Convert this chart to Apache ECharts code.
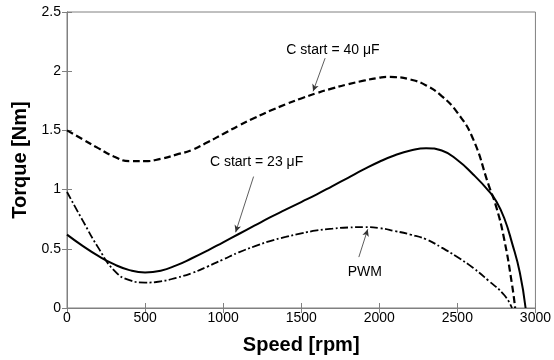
<!DOCTYPE html>
<html>
<head>
<meta charset="utf-8">
<script src="https://cdn.jsdelivr.net/npm/echarts@6/dist/echarts.min.js"></script>
<style>html,body{margin:0;padding:0;background:#fff}#c{width:554px;height:360px}</style>
</head>
<body>
<div id="c"></div>
<script>
const xTicks = [0, 500, 1000, 1500, 2000, 2500, 3000];
const yTicks = [0, 0.5, 1, 1.5, 2, 2.5];
const c40 = [[0,1.50],[100,1.425],[200,1.35],[300,1.28],[400,1.24],[500,1.24],[600,1.26],[700,1.295],[800,1.335],[900,1.40],[1000,1.47],[1100,1.54],[1200,1.605],[1300,1.665],[1400,1.72],[1500,1.77],[1600,1.815],[1700,1.855],[1800,1.89],[1900,1.92],[2000,1.945],[2050,1.952],[2100,1.95],[2200,1.93],[2300,1.88],[2400,1.79],[2500,1.65],[2600,1.43],[2700,1.04],[2750,0.85],[2800,0.58],[2850,0.20],[2870,0]];
const c23 = [[0,0.62],[100,0.525],[200,0.44],[300,0.37],[400,0.32],[500,0.30],[600,0.315],[700,0.36],[800,0.42],[900,0.485],[1000,0.555],[1100,0.625],[1200,0.695],[1300,0.765],[1400,0.83],[1500,0.895],[1600,0.96],[1700,1.03],[1800,1.10],[1900,1.17],[2000,1.235],[2100,1.29],[2200,1.33],[2300,1.35],[2400,1.33],[2500,1.25],[2600,1.13],[2700,0.99],[2750,0.90],[2800,0.76],[2850,0.55],[2900,0.30],[2937,0]];
const pwm = [[0,0.98],[100,0.74],[200,0.51],[300,0.32],[400,0.235],[500,0.215],[600,0.225],[700,0.255],[800,0.295],[900,0.35],[1000,0.41],[1100,0.47],[1200,0.52],[1300,0.565],[1400,0.60],[1500,0.63],[1600,0.655],[1700,0.67],[1800,0.68],[1900,0.683],[2000,0.675],[2100,0.65],[2200,0.62],[2300,0.58],[2400,0.51],[2500,0.43],[2600,0.34],[2700,0.23],[2800,0.11],[2850,0]];
const labels = ['C start = 40 \u03bcF', 'C start = 23 \u03bcF', 'PWM'];
const labelPos = [[1703, 2.18], [1214, 1.23], [1907, 0.30]];
const arrows = [[[1653, 2.11], [1576, 1.83]], [[1195, 1.11], [1080, 0.64]], [[1869, 0.43], [1926, 0.665]]];

const gray = '#808080';
const font = 'Liberation Sans, Arial, sans-serif';
const chart = echarts.init(document.getElementById('c'));
const axisCommon = {
  axisLine: { show: true, lineStyle: { color: gray, width: 1 } },
  axisTick: { show: true, inside: true, length: 5, lineStyle: { color: gray } },
  splitLine: { show: false }
};
chart.setOption({
  animation: false,
  backgroundColor: '#fff',
  grid: { left: 67, right: 15, top: 12, bottom: 51, show: true, borderColor: gray, borderWidth: 1 },
  xAxis: [
    Object.assign({ type: 'value', min: 0, max: 3000, interval: 500, position: 'bottom',
      name: 'Speed [rpm]', nameLocation: 'middle', nameGap: 27,
      nameTextStyle: { fontFamily: font, fontWeight: 'bold', fontSize: 20, color: '#000' },
      axisLabel: { fontFamily: font, fontSize: 14, color: '#000', margin: 3, formatter: v => String(v) } }, axisCommon),
    Object.assign({ type: 'value', min: 0, max: 3000, interval: 500, position: 'top',
      axisLabel: { show: false } }, axisCommon)
  ],
  yAxis: [
    Object.assign({ type: 'value', min: 0, max: 2.5, interval: 0.5, position: 'left',
      name: 'Torque [Nm]', nameLocation: 'middle', nameGap: 35,
      nameTextStyle: { fontFamily: font, fontWeight: 'bold', fontSize: 20, color: '#000' },
      axisLabel: { fontFamily: font, fontSize: 14, color: '#000', margin: 6, formatter: v => String(v) } }, axisCommon),
    Object.assign({ type: 'value', min: 0, max: 2.5, interval: 0.5, position: 'right',
      axisLabel: { show: false } }, axisCommon)
  ],
  series: [
    { type: 'line', data: c40, smooth: 0.5, symbol: 'none', clip: true,
      lineStyle: { color: '#000', width: 2.2, type: [7, 3.5] } },
    { type: 'line', data: c23, smooth: 0.5, symbol: 'none', clip: true,
      lineStyle: { color: '#000', width: 2, type: 'solid' } },
    { type: 'line', data: pwm, smooth: 0.5, symbol: 'none', clip: true,
      lineStyle: { color: '#000', width: 1.8, type: [8, 2.5, 2, 2.5] } },
    { type: 'line', data: [], symbol: 'none',
      markLine: { silent: true, symbol: ['none', 'arrow'], symbolSize: [5, 7], animation: false,
        lineStyle: { color: '#333', width: 0.8, type: 'solid' }, label: { show: false },
        data: arrows.map(a => [{ coord: a[0] }, { coord: a[1] }]) },
      markPoint: { silent: true, symbol: 'circle', symbolSize: 0, animation: false,
        label: { show: true, position: 'inside', fontFamily: font, fontSize: 14, color: '#000' },
        data: labels.map((t, i) => ({ coord: labelPos[i], value: t, label: { formatter: t } })) } }
  ]
});
</script>
</body>
</html>
